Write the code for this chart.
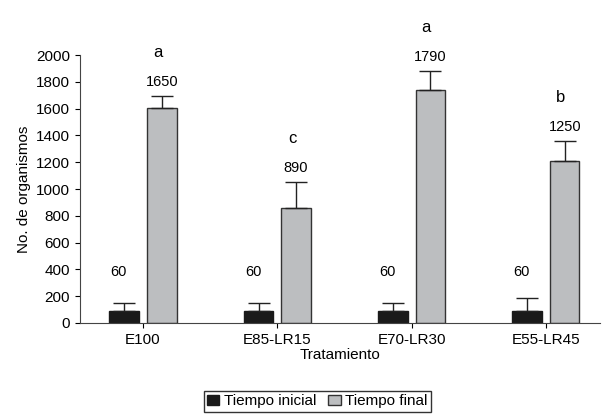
import numpy as np, matplotlib.pyplot as plt

groups = ['E100', 'E85-LR15', 'E70-LR30', 'E55-LR45']
inicial = [90, 90, 90, 90]
inicial_err = [60, 60, 60, 97]
final = [1603, 861, 1738, 1213]
final_err = [90, 188, 142, 143]
inicial_lbl = ['60', '60', '60', '60']
final_lbl = ['1650', '890', '1790', '1250']
letters = ['a', 'c', 'a', 'b']

plt.rcParams['font.family'] = ['Liberation Sans', 'DejaVu Sans']
fig = plt.figure(figsize=(6.1, 4.15), dpi=100)
ax = fig.add_axes([0.131, 0.222, 0.852, 0.645])
x = np.arange(len(groups)); w = 0.22; off = 0.14
ax.bar(x - off, inicial, w, color='#1a1a1a', edgecolor='#1a1a1a', label='Tiempo inicial',
       yerr=[np.zeros(4), inicial_err], error_kw=dict(capsize=8, elinewidth=1, capthick=1, ecolor='#222'))
ax.bar(x + off, final, w, color='#bcbec0', edgecolor='#333', linewidth=1, label='Tiempo final',
       yerr=[np.zeros(4), final_err], error_kw=dict(capsize=8, elinewidth=1, capthick=1, ecolor='#222'))
for i in range(4):
    ax.text(x[i] - off - 0.04, 380, inicial_lbl[i], ha='center', va='center', fontsize=10.5)
    top = final[i] + final_err[i]
    ax.text(x[i] + off, top + 110, final_lbl[i], ha='center', va='center', fontsize=10.5)
    ax.text(x[i] + off - 0.03, top + 330, letters[i], ha='center', va='center', fontsize=12, clip_on=False)
ax.set_xlim(-0.47, 3.40); ax.set_ylim(0, 2000)
ax.set_yticks(range(0, 2001, 200))
ax.set_xticks(x); ax.set_xticklabels(groups, fontsize=11)
ax.tick_params(axis='y', labelsize=11)
for s in ['top', 'right']:
    ax.spines[s].set_visible(False)
ax.spines['left'].set_color('#444'); ax.spines['bottom'].set_color('#444')
ax.set_ylabel('No. de organismos', fontsize=11)
ax.set_xlabel('Tratamiento', fontsize=11, labelpad=1)
fig.legend(loc='lower center', bbox_to_anchor=(0.52, -0.01), ncol=2, fontsize=11, frameon=True,
           fancybox=False, edgecolor='black', handlelength=0.8, handletextpad=0.3, columnspacing=0.8,
           borderpad=0.2)
fig.savefig('out.png', dpi=100)
